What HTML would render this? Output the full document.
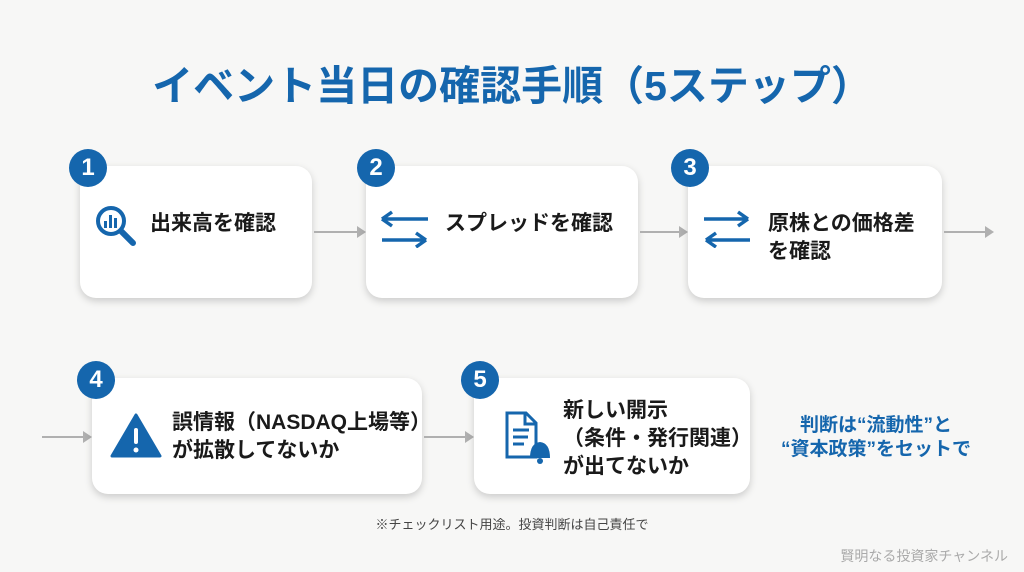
<!DOCTYPE html>
<html><head><meta charset="utf-8"><style>
body{margin:0;width:1024px;height:572px;background:#f7f7f6;position:relative;overflow:hidden;font-family:"Liberation Sans","Noto Sans CJK JP",sans-serif;}
.t{position:absolute;left:0;width:1024px;top:52px;text-align:center;font-size:41px;font-weight:bold;color:#1566ad;letter-spacing:0;}
.box{position:absolute;background:#fff;border-radius:16px;box-shadow:0 3px 8px rgba(0,0,0,.18);}
.b{position:absolute;width:38px;height:38px;border-radius:50%;background:#1566ad;color:#fff;font-weight:bold;font-size:24px;text-align:center;line-height:38px;}
.lb{position:absolute;font-size:21px;font-weight:bold;color:#1a1a1a;line-height:28px;}
.ar{position:absolute;height:2px;background:#b0b0b0;}
.ar:after{content:"";position:absolute;right:-2px;top:-5px;border-left:9px solid #b0b0b0;border-top:6px solid transparent;border-bottom:6px solid transparent;}
</style></head><body>
<div class="t">イベント当日の確認手順（5ステップ）</div>

<div class="box" style="left:80px;top:166px;width:232px;height:132px"></div>
<div class="b" style="left:69px;top:149px">1</div>
<svg style="position:absolute;left:94px;top:204px" width="52" height="52"><circle cx="17" cy="17" r="13" fill="none" stroke="#1566ad" stroke-width="4"/><line x1="27" y1="27" x2="39" y2="39" stroke="#1566ad" stroke-width="6" stroke-linecap="round"/><rect x="10" y="17" width="3" height="7" fill="#1566ad"/><rect x="15" y="11" width="3" height="13" fill="#1566ad"/><rect x="20" y="14" width="3" height="10" fill="#1566ad"/></svg>
<div class="lb" style="left:150px;top:210px">出来高を確認</div>
<div class="ar" style="left:314px;top:231px;width:50px"></div>

<div class="box" style="left:366px;top:166px;width:272px;height:132px"></div>
<div class="b" style="left:357px;top:149px">2</div>
<svg style="position:absolute;left:378px;top:210px" width="56" height="38"><path d="M4 9H50M4 9L14 2M4 9L14 16" stroke="#1566ad" stroke-width="3.5" fill="none"/><path d="M4 30H48M48 30L38 23M48 30L38 37" stroke="#1566ad" stroke-width="3.5" fill="none"/></svg>
<div class="lb" style="left:445px;top:210px">スプレッドを確認</div>
<div class="ar" style="left:640px;top:231px;width:46px"></div>

<div class="box" style="left:688px;top:166px;width:254px;height:132px"></div>
<div class="b" style="left:671px;top:149px">3</div>
<svg style="position:absolute;left:700px;top:210px" width="56" height="38"><path d="M4 9H48M48 9L38 2M48 9L38 16" stroke="#1566ad" stroke-width="3.5" fill="none"/><path d="M6 30H50M6 30L16 23M6 30L16 37" stroke="#1566ad" stroke-width="3.5" fill="none"/></svg>
<div class="lb" style="left:768px;top:210px">原株との価格差<br>を確認</div>
<div class="ar" style="left:944px;top:231px;width:48px"></div>

<div class="ar" style="left:42px;top:436px;width:48px"></div>
<div class="box" style="left:92px;top:378px;width:330px;height:116px"></div>
<div class="b" style="left:77px;top:361px">4</div>
<svg style="position:absolute;left:110px;top:412px" width="52" height="46"><path d="M26 3L50 44H2Z" fill="#1566ad" stroke="#1566ad" stroke-width="3" stroke-linejoin="round"/><rect x="24" y="16" width="4" height="16" rx="2" fill="#fff"/><circle cx="26" cy="38" r="2.5" fill="#fff"/></svg>
<div class="lb" style="left:172px;top:409px">誤情報（NASDAQ上場等）<br>が拡散してないか</div>
<div class="ar" style="left:424px;top:436px;width:48px"></div>

<div class="box" style="left:474px;top:378px;width:276px;height:116px"></div>
<div class="b" style="left:461px;top:361px">5</div>
<svg style="position:absolute;left:504px;top:410px" width="50" height="56"><path d="M3 3H22L32 13V47H3Z" fill="none" stroke="#1566ad" stroke-width="3"/><path d="M21 3V14H32" fill="none" stroke="#1566ad" stroke-width="3"/><path d="M9 20H25M9 27H24M9 34H20" stroke="#1566ad" stroke-width="3"/><path d="M26 48Q26 33 36 32Q46 33 46 48Z" fill="#1566ad"/><circle cx="36" cy="51" r="3" fill="#1566ad"/></svg>
<div class="lb" style="left:563px;top:397px">新しい開示<br>（条件・発行関連）<br>が出てないか</div>

<div style="position:absolute;left:764px;top:414px;width:224px;text-align:center;font-size:19px;font-weight:bold;color:#1566ad;line-height:24px">判断は“流動性”と<br>“資本政策”をセットで</div>
<div style="position:absolute;left:0;width:1024px;top:514px;text-align:center;font-size:13px;color:#444">※チェックリスト用途。投資判断は自己責任で</div>
<div style="position:absolute;right:16px;top:546px;font-size:14px;color:#aaa">賢明なる投資家チャンネル</div>
</body></html>
